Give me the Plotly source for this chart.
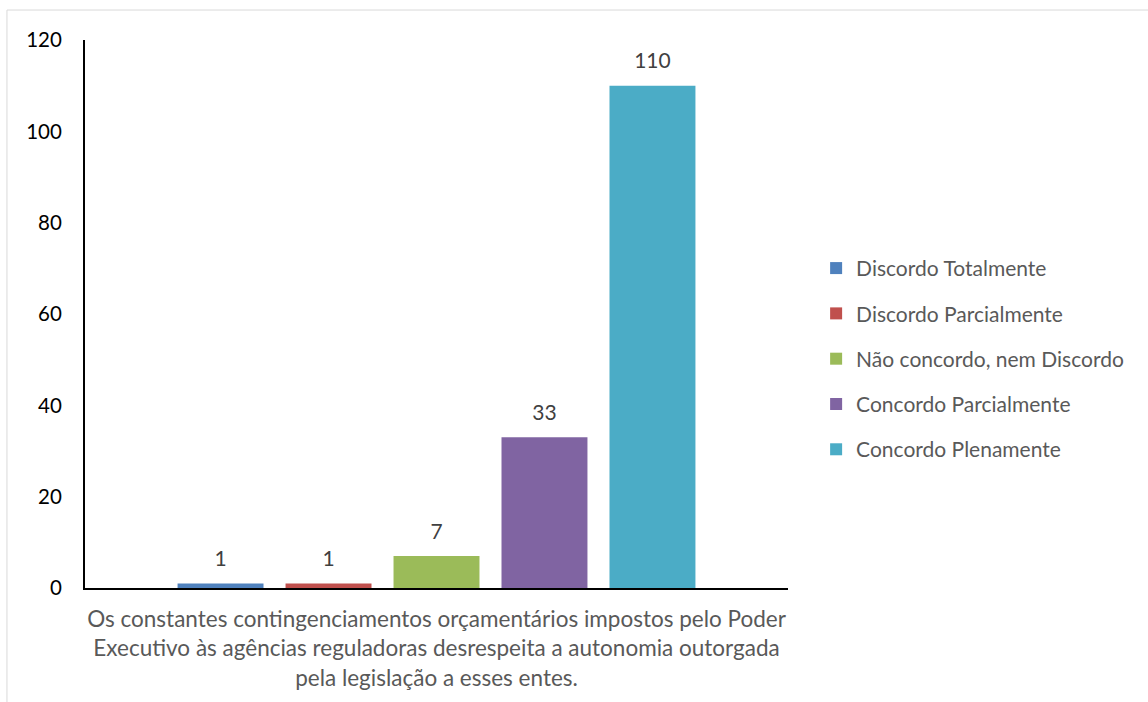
import plotly.graph_objects as go

category = ["Os constantes contingenciamentos orçamentários impostos pelo Poder<br>Executivo às agências reguladoras desrespeita a autonomia outorgada<br>pela legislação a esses entes."]
series_names = ["Discordo Totalmente", "Discordo Parcialmente", "Não concordo, nem Discordo",
                "Concordo Parcialmente", "Concordo Plenamente"]
series_values = [1, 1, 7, 33, 110]
series_colors = ["#4F81BD", "#C0504D", "#9BBB59", "#8064A2", "#4BACC6"]
y_ticks = [0, 20, 40, 60, 80, 100, 120]

FONT = "Lato, 'Open Sans', sans-serif"

fig = go.Figure()
for name, val, col in zip(series_names, series_values, series_colors):
    fig.add_trace(go.Bar(
        x=category, y=[val], name=name, marker_color=col, marker_line_width=0,
        offsetgroup=name, legendgroup=name,
    ))
for name, val in zip(series_names, series_values):
    fig.add_trace(go.Scatter(
        x=category, y=[val], mode="markers+text", text=[str(val)],
        textposition="top center", offsetgroup=name, showlegend=False,
        marker=dict(size=18, opacity=0), cliponaxis=False, hoverinfo="skip",
        textfont=dict(family=FONT, size=21, color="#404040"),
    ))

fig.update_layout(
    width=1148, height=702,
    margin=dict(l=85, r=360, t=40, b=114),
    paper_bgcolor="white", plot_bgcolor="white",
    barmode="group", bargap=0.232, bargroupgap=0.204,
    scattermode="group", scattergap=0.232,
    font=dict(family=FONT, size=21, color="#595959"),
    showlegend=True,
    legend=dict(x=1.04, y=0.418, xanchor="left", yanchor="middle",
                font=dict(family=FONT, size=21, color="#595959"),
                tracegroupgap=15, itemwidth=30, bgcolor="rgba(0,0,0,0)"),
)
fig.update_yaxes(range=[0, 120], tickvals=y_ticks, showgrid=False, zeroline=False,
                 showline=True, linecolor="black", linewidth=2, ticks="",
                 ticklabelstandoff=17,
                 tickfont=dict(family=FONT, size=20.5, color="#000000"))
fig.update_xaxes(showline=True, linecolor="black", linewidth=2, ticks="",
                 ticklabelstandoff=10,
                 tickfont=dict(family=FONT, size=22.5, color="#595959"))
fig.add_shape(type="rect", xref="paper", yref="paper",
              x0=-0.111, x1=1.6, y0=-0.25, y1=1.0547,
              line=dict(color="#D9D9D9", width=1), fillcolor="rgba(0,0,0,0)", layer="below")

fig.write_html("out.html", config={"displayModeBar": False},
               post_script=["document.body.style.margin='0px';"])
